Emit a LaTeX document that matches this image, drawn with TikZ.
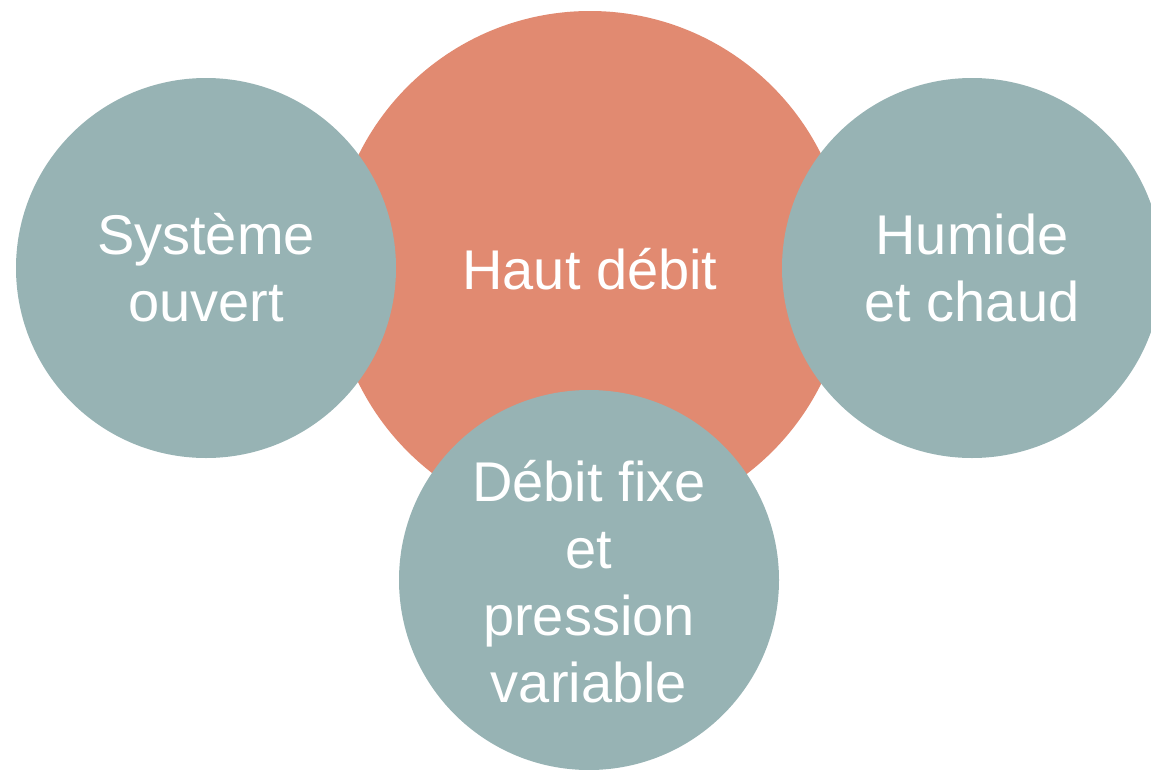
\documentclass[tikz,border=0pt]{standalone}
\usepackage{fontspec}
\setmainfont{Liberation Sans}
\definecolor{orangec}{HTML}{E18A71}
\definecolor{tealc}{HTML}{97B3B4}
\begin{document}
\begin{tikzpicture}[x=1pt,y=-1pt,
  circ/.style={circle,inner sep=0pt,outer sep=0pt,minimum size=#1},
  lbl/.style={text=white,align=center,font=\fontsize{56}{67}\selectfont}]
\useasboundingbox (0,0) rectangle (1151,769);
\node[circ=516pt,fill=orangec] (c) at (590,269) {};
\node[circ=380pt,fill=tealc] (l) at (206,268) {};
\node[circ=380pt,fill=tealc] (r) at (972,268) {};
\node[circ=380pt,fill=tealc] (b) at (589,580) {};
\node[lbl] (tc) at (c.center) {Haut débit};
\node[lbl] (tl) at (l.center) {Système\\ouvert};
\node[lbl] (tr) at (r.center) {Humide\\et chaud};
\node[lbl] (tb) at ([yshift=-2pt]b.center) {Débit fixe\\et\\pression\\variable};
\end{tikzpicture}
\end{document}
